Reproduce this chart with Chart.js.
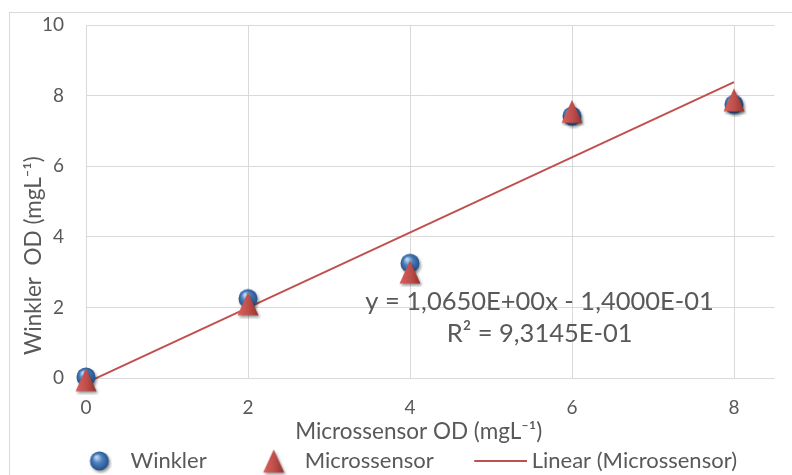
<!DOCTYPE html>
<html lang="pt">
<head>
    <meta charset="UTF-8">
    <title>Winkler vs Microssensor</title>
    <script src="https://cdn.jsdelivr.net/npm/chart.js"></script>
    <style>
        body { margin: 0; background: #fff; }
    </style>
</head>
<body>
    <canvas id="odChart" width="792" height="475"></canvas>
    <script>
        // values
        var xTicks = [0, 2, 4, 6, 8];
        var winklerX = [0, 2, 4, 6, 8];
        var winklerY = [0.03, 2.25, 3.25, 7.42, 7.75];
        var microX = [0, 2, 4, 6, 8];
        var microY = [-0.05, 2.1, 3.0, 7.55, 7.88];
        var trendX = [0, 8];
        var trendY = [-0.14, 8.38];
        var eqLines = ['y = 1,0650E+00x - 1,4000E-01', 'R² = 9,3145E-01'];
        var eqPos = { x: 5.6, y: [2.17, 1.26] };

        var grey = '#595959';
        var gridGrey = '#d9d9d9';
        var red = '#c0504d';
        var fontFam = 'Lato, "Open Sans", sans-serif';

        function toPoints(xs, ys) {
            return xs.map(function (x, i) { return { x: x, y: ys[i] }; });
        }

        // marker pictures (shaded like the office chart); shift moves the mark right inside the picture
        function sphere(shift) {
            var c = document.createElement('canvas');
            c.width = 26 + 2 * shift; c.height = 26;
            var g = c.getContext('2d');
            var cx = c.width / 2 + shift;
            g.shadowColor = 'rgba(0,0,0,0.4)';
            g.shadowBlur = 3; g.shadowOffsetX = 1.5; g.shadowOffsetY = 2;
            var grad = g.createRadialGradient(cx - 3, 9, 1, cx, 13, 10);
            grad.addColorStop(0, '#b8d2f1');
            grad.addColorStop(0.4, '#4f81bd');
            grad.addColorStop(1, '#1f4d8a');
            g.fillStyle = grad;
            g.beginPath(); g.arc(cx, 13, 9.5, 0, Math.PI * 2); g.fill();
            return c;
        }
        function triangle(shift) {
            var c = document.createElement('canvas');
            c.width = 30 + 2 * shift; c.height = 30;
            var g = c.getContext('2d');
            var cx = c.width / 2 + shift;
            g.shadowColor = 'rgba(0,0,0,0.4)';
            g.shadowBlur = 3; g.shadowOffsetX = 1.5; g.shadowOffsetY = 2;
            var grad = g.createLinearGradient(cx - 11, 0, cx + 11, 0);
            grad.addColorStop(0, '#d9605b');
            grad.addColorStop(0.5, '#c0504d');
            grad.addColorStop(1, '#92302c');
            g.fillStyle = grad;
            g.beginPath();
            g.moveTo(cx, 3.5); g.lineTo(cx + 10.5, 26.5); g.lineTo(cx - 10.5, 26.5);
            g.closePath(); g.fill();
            return c;
        }
        function lineSwatch(shift) {
            var c = document.createElement('canvas');
            c.width = 53 + 2 * shift; c.height = 6;
            var g = c.getContext('2d');
            g.strokeStyle = red; g.lineWidth = 2;
            g.beginPath(); g.moveTo(2 * shift, 3); g.lineTo(c.width, 3); g.stroke();
            return c;
        }

        var legendIcons = [sphere(10), triangle(10), lineSwatch(10)];

        var frame = {
            id: 'frame',
            beforeDraw: function (chart) {
                var ctx = chart.ctx;
                ctx.save();
                ctx.strokeStyle = gridGrey;
                ctx.lineWidth = 1;
                ctx.strokeRect(9.5, 12.5, 900, 600);
                ctx.restore();
            }
        };
        var equation = {
            id: 'equation',
            afterDatasetsDraw: function (chart) {
                var ctx = chart.ctx, xs = chart.scales.x, ys = chart.scales.y;
                ctx.save();
                ctx.font = '25.5px ' + fontFam;
                ctx.fillStyle = grey;
                ctx.textAlign = 'center';
                ctx.textBaseline = 'middle';
                eqLines.forEach(function (t, i) {
                    ctx.fillText(t, xs.getPixelForValue(eqPos.x), ys.getPixelForValue(eqPos.y[i]));
                });
                ctx.restore();
            }
        };

        var plotLeft = 86;
        var plotBottom = 378;
        var padLeft = 22;
        var padBottom = -7;
        var ctx = document.getElementById('odChart').getContext('2d');
        var odChart = new Chart(ctx, {
            type: 'scatter',
            data: {
                datasets: [{
                    label: 'Winkler',
                    data: toPoints(winklerX, winklerY),
                    pointStyle: sphere(0),
                    pointRadius: 10,
                    order: 2,
                    clip: false
                }, {
                    label: 'Microssensor',
                    data: toPoints(microX, microY),
                    pointStyle: triangle(0),
                    pointRadius: 10,
                    order: 1,
                    clip: false
                }, {
                    label: 'Linear (Microssensor)',
                    data: toPoints(trendX, trendY),
                    showLine: true,
                    borderColor: red,
                    borderWidth: 2,
                    pointRadius: 0,
                    order: 3,
                    clip: false
                }]
            },
            options: {
                responsive: false,
                animation: false,
                devicePixelRatio: 1,
                events: [],
                layout: { padding: { left: padLeft, right: 17.5, top: 25, bottom: padBottom } },
                plugins: {
                    tooltip: { enabled: false },
                    legend: {
                        position: 'bottom',
                        labels: {
                            usePointStyle: true,
                            pointStyleWidth: 60,
                            padding: 27,
                            color: grey,
                            font: { family: fontFam, size: 22 },
                            generateLabels: function (chart) {
                                var items = Chart.defaults.plugins.legend.labels.generateLabels(chart);
                                items.forEach(function (it) { it.pointStyle = legendIcons[it.datasetIndex]; });
                                return items.sort(function (a, b) { return a.datasetIndex - b.datasetIndex; });
                            }
                        }
                    }
                },
                scales: {
                    x: {
                        type: 'linear',
                        min: 0,
                        max: 8.5,
                        afterBuildTicks: function (s) {
                            s.ticks = xTicks.map(function (v) { return { value: v }; });
                        },
                        afterFit: function (s) {
                            s.height = s.chart.height - padBottom - s.chart.legend.height - plotBottom;
                        },
                        grid: { color: gridGrey, drawTicks: false },
                        border: { display: false },
                        ticks: { padding: 18, color: grey, font: { family: fontFam, size: 19 } },
                        title: {
                            display: true,
                            text: 'Microssensor OD (mgL⁻¹)    ',
                            color: grey,
                            font: { family: fontFam, size: 22.5 },
                            padding: { top: 0, bottom: -22.5 }
                        }
                    },
                    y: {
                        min: 0,
                        max: 10,
                        afterFit: function (s) { s.width = plotLeft - padLeft; },
                        grid: { color: gridGrey, drawTicks: true, tickLength: 20, tickColor: 'rgba(0,0,0,0)' },
                        border: { display: false },
                        ticks: { stepSize: 2, padding: 2, color: grey, font: { family: fontFam, size: 19 } },
                        title: {
                            display: true,
                            align: 'start',
                            text: '    Winkler  OD (mgL⁻¹)',
                            color: grey,
                            font: { family: fontFam, size: 22.5 },
                            padding: { top: -1.5, bottom: 0 }
                        }
                    }
                }
            },
            plugins: [frame, equation]
        });
    </script>
</body>
</html>
